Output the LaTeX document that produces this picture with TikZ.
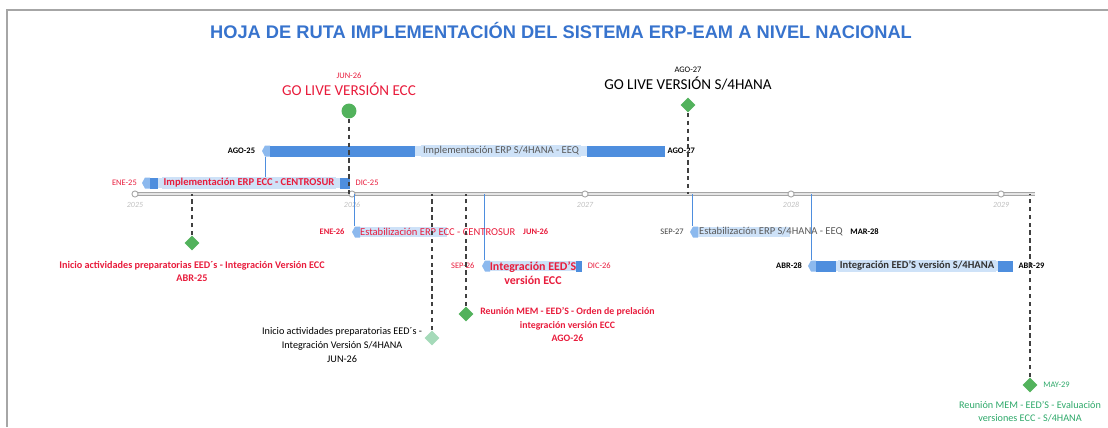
\documentclass[tikz,border=0pt]{standalone}
\usepackage{fontspec}
\setmainfont{Carlito}
\newfontfamily\ttlfont{Liberation Sans}
\usepackage{tikz}
\usetikzlibrary{positioning}
\usetikzlibrary{shapes}
\definecolor{ttlblue}{RGB}{55,115,205}
\definecolor{rojo}{RGB}{232,28,60}
\definecolor{verde}{RGB}{82,178,92}
\definecolor{verdeclaro}{RGB}{165,218,185}
\definecolor{verdetxt}{RGB}{45,168,105}
\definecolor{bardark}{RGB}{78,142,222}
\definecolor{barmid}{RGB}{140,185,238}
\definecolor{barlight}{RGB}{206,226,248}
\definecolor{ejegris}{RGB}{165,165,165}
\tikzstyle{titulo}=[inner sep=1pt,text=ttlblue,font=\ttlfont\bfseries\fontsize{10.4}{12}\selectfont]
\tikzstyle{barbody}=[rectangle,fill=barlight,minimum height=6.2pt,inner sep=0pt]
\tikzstyle{bartext}=[rectangle,fill=barlight,inner sep=1pt,font=\fontsize{6}{7}\selectfont]
\tikzstyle{datelbl}=[inner sep=1pt,font=\fontsize{4.8}{5.5}\selectfont]
\tikzstyle{hito}=[diamond,fill=verde,minimum size=8.5pt,inner sep=0pt]
\tikzstyle{golive}=[circle,fill=verde,minimum size=8.5pt,inner sep=0pt]
\tikzstyle{gltext}=[inner sep=1pt,font=\fontsize{8.6}{10}\selectfont]
\tikzstyle{mtext}=[inner sep=1pt,align=center,font=\fontsize{5.8}{7.8}\selectfont]
\tikzstyle{mtextb}=[mtext,font=\fontsize{5.8}{7.8}\selectfont\bfseries]
\tikzstyle{dline}=[draw=black!75,line width=0.7pt,dash pattern=on 2.5pt off 2pt]
\tikzstyle{tline}=[draw=bardark,line width=0.5pt]
\tikzstyle{yeardot}=[circle,draw=ejegris,fill=white,line width=0.5pt,minimum size=3.5pt,inner sep=0pt]
\tikzstyle{yearlbl}=[inner sep=0.5pt,text=black!25,font=\fontsize{4.5}{5}\selectfont\itshape]
\tikzset{axisline/.style={draw=ejegris,line width=0.5pt,double=black!10,double distance=1.3pt}}

\begin{document}
\begin{tikzpicture}[x=0.02cm,y=-0.02cm]
\useasboundingbox (0,0) rectangle (1108,427);

 %Marco
 \draw[black!35, line width=0.8pt] (7,427) -- (7,10) -- (1108,10);
 \node[titulo] (tit) at (561,30) {HOJA DE RUTA IMPLEMENTACIÓN DEL SISTEMA ERP-EAM A NIVEL NACIONAL};

 %Eje
 \coordinate (eje) at (135,194);
 \coordinate (ejefin) at (1035,194);
 \path[axisline] (eje) -- (ejefin);

   \foreach \x/\name/\label in {135/y25/2025, 352/y26/2026, 585/y27/2027, 791/y28/2028, 1001/y29/2029}
   {
     \node[yeardot] (\name) at (\x,194) {};
     \node[yearlbl, below=2pt of \name] (l\name) {\label};
   }

 %Barras
   \foreach \xs/\xe/\y/\name in {262/665/151/b2, 142/350/183/b1, 352/447/232/b3, 482/582/266/b4, 690/790/232/b5, 808/1013/266/b6}
   {
     \node[barbody, minimum width={(\xe-\xs-3)*0.567pt}] (\name) at ({(\xs+3+\xe)/2},\y) {};
     \fill[barmid] (\xs,\y) -- (\xs+3,\y-5.5) -- (\xs+8,\y-5.5) -- (\xs+8,\y+5.5) -- (\xs+3,\y+5.5) -- cycle;
   }

   \foreach \xs/\xe/\y in {150/158/183, 340/350/183, 270/415/151, 587/665/151, 576/582/266, 816/836/266, 998/1013/266}
          \fill[bardark] (\xs,\y-5.5) rectangle (\xe,\y+5.5);

 \draw[tline] (b2.south west) -- (b2.south west |- b1.north);
   \foreach \name in {b3, b4, b5, b6}
          \draw[tline] (\name.north west |- eje) -- (\name.north west);

 %Textos de barras
 \node[bartext, text=rojo] (t1) at (249,183) {\bfseries Implementación ERP ECC - CENTROSUR};
 \node[bartext, text=black!65] (t2) at (501,151) {Implementación ERP S/4HANA - EEQ};
 \node[bartext, fill=none, text=rojo, anchor=west] (t3) at (358,232) {Estabilización ERP ECC - CENTROSUR};
 \node[bartext, fill=none, text=rojo, align=center, anchor=north, font=\fontsize{6.8}{7.6}\selectfont\bfseries] (t4) at (533,260) {Integración EED'S\\versión ECC};
 \node[bartext, fill=none, text=black!65, anchor=west] (t5) at (697,232) {Estabilización ERP S/4HANA - EEQ};
 \node[bartext, text=black!80] (t6) at (917,266) {\bfseries Integración EED'S versión S/4HANA};

 %Fechas
 \node[datelbl, text=rojo, left=3.5pt of b1] (d1a) {ENE-25};
 \node[datelbl, text=rojo, right=2pt of b1] (d1b) {DIC-25};
 \node[datelbl, left=4.7pt of b2] (d2a) {\bfseries AGO-25};
 \node[datelbl, right=0.5pt of b2] (d2b) {\bfseries AGO-27};
 \node[datelbl, text=rojo, left=4.7pt of b3] (d3a) {\bfseries ENE-26};
 \node[datelbl, text=rojo, right=2pt of t3] (d3b) {\bfseries JUN-26};
 \node[datelbl, text=rojo, left=4.7pt of b4] (d4a) {SEP-26};
 \node[datelbl, text=rojo, right=2pt of b4] (d4b) {DIC-26};
 \node[datelbl, text=black!75, left=4pt of b5] (d5a) {SEP-27};
 \node[datelbl, right=2pt of t5] (d5b) {\bfseries MAR-28};
 \node[datelbl, left=4pt of b6] (d6a) {\bfseries ABR-28};
 \node[datelbl, right=2pt of b6] (d6b) {\bfseries ABR-29};

 %Go live
 \node[golive] (gl1) at (349,111) {};
 \node[hito] (gl2) at (688,105) {};
 \node[gltext, text=rojo, above=3pt of gl1] (gl1t) {GO LIVE VERSIÓN ECC};
 \node[datelbl, text=rojo, above=0pt of gl1t] (gl1d) {JUN-26};
 \node[gltext, above=3pt of gl2] (gl2t) {GO LIVE VERSIÓN S/4HANA};
 \node[datelbl, above=0pt of gl2t] (gl2d) {AGO-27};

 %Hitos
   \foreach \x/\y/\name/\col in {192/243/hC/verde, 432/338/hD/verdeclaro, 466/314/hE/verde, 1030/385/hF/verde}
          \node[hito, fill=\col] (\name) at (\x,\y) {};

   \foreach \name in {gl1, gl2, hC, hD, hE, hF}
          \draw[dline] (\name) -- (\name |- eje);

 \node[mtextb, text=rojo, below=4.5pt of hC] (tC) {Inicio actividades preparatorias EED´s - Integración Versión ECC\\ABR-25};
 \node[mtext, left=0pt of hD, yshift=-4pt] (tD) {Inicio actividades preparatorias EED´s -\\Integración Versión S/4HANA\\JUN-26};
 \node[mtextb, text=rojo, anchor=north west, font=\fontsize{5.6}{7.8}\selectfont\bfseries] (tE) at ([xshift=2.5pt, yshift=5pt]hE.east) {Reunión MEM - EED'S - Orden de prelación\\integración versión ECC\\AGO-26};
 \node[datelbl, text=verdetxt, right=2pt of hF] (dF) {MAY-29};
 \node[mtext, text=verdetxt, below=3.5pt of hF] (tF) {Reunión MEM - EED'S - Evaluación\\versiones ECC - S/4HANA};

\end{tikzpicture}
\end{document}
